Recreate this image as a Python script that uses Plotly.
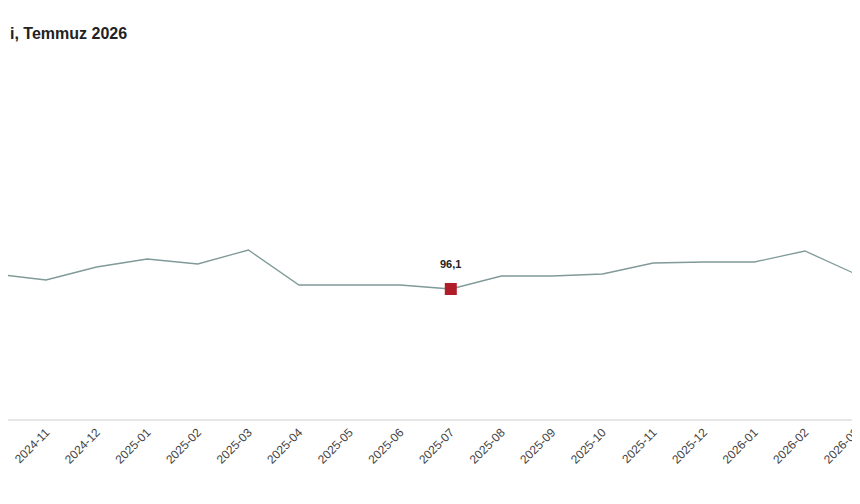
import plotly.graph_objects as go

months = ["2024-10","2024-11","2024-12","2025-01","2025-02","2025-03","2025-04","2025-05",
          "2025-06","2025-07","2025-08","2025-09","2025-10","2025-11","2025-12","2026-01",
          "2026-02","2026-03","2026-04"]
values = [97.6, 97.0, 98.3, 99.1, 98.6, 100.0, 96.5, 96.5, 96.5, 96.1, 97.4, 97.4, 97.6,
          98.7, 98.8, 98.8, 99.9, 97.6, 96.4]
highlight_month = "2025-07"
highlight_value = 96.1
highlight_label = "96,1"

fig = go.Figure()
fig.add_trace(go.Scatter(x=months, y=values, mode="lines",
                         line=dict(color="#7f9a98", width=1.3), hoverinfo="skip"))
fig.add_trace(go.Scatter(x=[highlight_month], y=[highlight_value], mode="markers",
                         marker=dict(symbol="square", size=12, color="#b01c27")))
fig.add_annotation(x=highlight_month, y=highlight_value, text="<b>" + highlight_label + "</b>",
                   showarrow=False, yshift=25, font=dict(size=11, color="#222", family="Liberation Sans"))
fig.add_annotation(text="<b>i, Temmuz 2026</b>", xref="paper", yref="paper",
                   x=0, y=1 - 31/504, xanchor="left", yanchor="middle", showarrow=False,
                   font=dict(size=16, color="#222", family="Liberation Sans"))
fig.update_layout(width=860, height=504, margin=dict(l=0, r=0, t=0, b=93, pad=0),
                  plot_bgcolor="white", paper_bgcolor="white", showlegend=False,
                  xaxis=dict(type="category", range=[0.249, 17.245], tickangle=-45, automargin=False,
                             showgrid=False, showline=True, linecolor="#e6e6e6", linewidth=1.5,
                             tickfont=dict(size=12, color="#444", family="Liberation Sans"),
                             ticks=""),
                  yaxis=dict(range=[83.1, 124.2], showgrid=False, showticklabels=False,
                             zeroline=False, automargin=False))
fig.write_html("out.html")
